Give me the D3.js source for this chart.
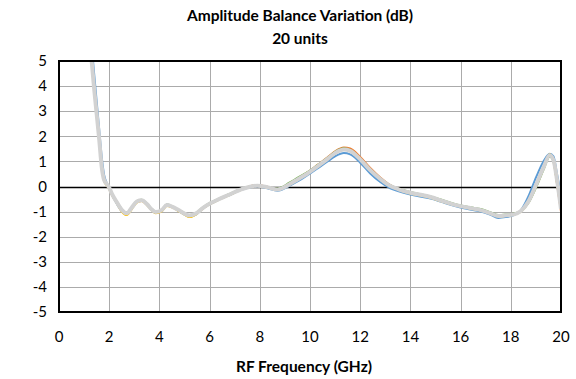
<!DOCTYPE html>
<html>
<head>
<meta charset="utf-8">
<script src="https://cdn.jsdelivr.net/npm/d3@7"></script>
<style>
  body { margin: 0; background: #fff; }
  svg text { font-family: Lato, "Open Sans", sans-serif; fill: #000; }
</style>
</head>
<body>
<svg id="chart" width="576" height="379"></svg>
<script>
// frequency points (GHz)
var freq = [1.2, 1.3, 1.4, 1.5, 1.6, 1.7, 1.8, 1.9, 2.0, 2.1, 2.3, 2.5, 2.7, 2.9, 3.1, 3.3, 3.5, 3.7, 3.85,
  4.1, 4.3, 4.5, 4.75, 5.0, 5.2, 5.45, 5.7, 5.9, 6.3, 6.75, 7.3, 7.9, 8.3, 8.7, 9.2, 9.5, 9.9, 10.3,
  10.7, 11.0, 11.35, 11.6, 12.0, 12.4, 12.8, 13.2, 13.5, 14.0, 14.5, 14.8, 15.2, 15.6, 16.0, 16.5,
  16.8, 17.2, 17.5, 17.8, 18.1, 18.4, 18.7, 19.0, 19.3, 19.55, 19.7, 19.85, 20.0];

// a few of the 20 units (dB)
var unitBlue = [6.4, 5.6, 4.5, 3.4, 2.3, 1.2, 0.45, 0.15, -0.05, -0.3, -0.68, -0.98, -1.1, -0.86, -0.6, -0.54, -0.7, -0.94, -1.04,
  -0.93, -0.72, -0.8, -0.96, -1.12, -1.2, -1.12, -0.9, -0.76, -0.56, -0.36, -0.12, 0.0, -0.07, -0.17, 0.04, 0.2, 0.45, 0.72,
  1.0, 1.2, 1.33, 1.28, 0.95, 0.52, 0.18, -0.07, -0.18, -0.32, -0.42, -0.48, -0.6, -0.73, -0.84, -0.94,
  -1.0, -1.13, -1.25, -1.22, -1.15, -0.95, -0.4, 0.35, 1.0, 1.3, 1.2, 0.45, -0.3];

var unitOrange = [5.8, 5.0, 3.9, 2.9, 1.9, 0.8, 0.25, 0.08, -0.08, -0.3, -0.62, -0.95, -1.1, -0.86, -0.62, -0.58, -0.72, -0.92, -1.05,
  -0.96, -0.76, -0.82, -0.95, -1.1, -1.19, -1.1, -0.9, -0.75, -0.55, -0.35, -0.1, 0.06, -0.01, -0.1, 0.12, 0.3, 0.56, 0.86,
  1.16, 1.4, 1.55, 1.52, 1.18, 0.74, 0.36, 0.06, -0.08, -0.25, -0.35, -0.42, -0.55, -0.68, -0.78, -0.88,
  -0.94, -1.07, -1.18, -1.15, -1.1, -0.98, -0.62, 0.0, 0.72, 1.22, 1.05, 0.05, -1.0];

var unitYellow = [5.7, 4.9, 3.8, 2.8, 1.8, 0.75, 0.2, 0.05, -0.1, -0.32, -0.66, -1.0, -1.14, -0.9, -0.64, -0.58, -0.74, -0.95, -1.07,
  -0.98, -0.78, -0.83, -0.97, -1.12, -1.22, -1.12, -0.9, -0.76, -0.56, -0.36, -0.11, 0.03, -0.03, -0.12, 0.1, 0.28, 0.52, 0.8,
  1.1, 1.34, 1.48, 1.45, 1.1, 0.66, 0.3, 0.01, -0.12, -0.28, -0.38, -0.45, -0.58, -0.7, -0.8, -0.9,
  -0.96, -1.08, -1.2, -1.17, -1.12, -1.0, -0.64, -0.02, 0.7, 1.28, 1.0, 0.1, -0.9];

var unitGreen = [5.8, 5.0, 3.9, 2.9, 1.9, 0.8, 0.25, 0.1, -0.05, -0.26, -0.6, -0.9, -1.04, -0.82, -0.58, -0.53, -0.68, -0.9, -1.0,
  -0.92, -0.72, -0.78, -0.92, -1.06, -1.14, -1.06, -0.86, -0.72, -0.52, -0.32, -0.08, 0.04, -0.02, -0.08, 0.16, 0.34, 0.57, 0.85,
  1.14, 1.38, 1.52, 1.46, 1.1, 0.68, 0.32, 0.04, -0.08, -0.22, -0.33, -0.4, -0.52, -0.65, -0.76, -0.85,
  -0.9, -1.03, -1.14, -1.12, -1.08, -0.98, -0.66, -0.05, 0.66, 1.2, 1.0, 0.1, -0.85];

var unitGray = [5.8, 5.0, 3.9, 2.9, 1.9, 0.8, 0.25, 0.1, -0.05, -0.27, -0.62, -0.93, -1.07, -0.84, -0.6, -0.55, -0.7, -0.92, -1.02,
  -0.93, -0.74, -0.8, -0.93, -1.08, -1.16, -1.08, -0.88, -0.74, -0.54, -0.34, -0.1, 0.03, -0.03, -0.12, 0.1, 0.28, 0.52, 0.8,
  1.1, 1.33, 1.47, 1.42, 1.08, 0.65, 0.3, 0.02, -0.1, -0.25, -0.35, -0.42, -0.55, -0.68, -0.78, -0.88,
  -0.94, -1.07, -1.18, -1.15, -1.12, -0.98, -0.6, 0.05, 0.75, 1.25, 1.05, 0.2, -0.9];

var units = [
  { values: unitBlue, color: "#5B9BD5" },
  { values: unitOrange, color: "#ED7D31" },
  { values: unitYellow, color: "#FFC000" },
  { values: unitGreen, color: "#70AD47" },
  { values: unitGray, color: "#D2D2D2" }
];

var xTicks = [0, 2, 4, 6, 8, 10, 12, 14, 16, 18, 20];
var yTicks = [5, 4, 3, 2, 1, 0, -1, -2, -3, -4, -5];

var margin = {top: 61, right: 15, bottom: 67, left: 59},
    width = 576 - margin.left - margin.right,
    height = 379 - margin.top - margin.bottom;

var svg = d3.select("#chart");

var x = d3.scaleLinear().domain([0, 20]).range([0, width]);
var y = d3.scaleLinear().domain([-5, 5]).range([height, 0]);

svg.append("text")
    .attr("x", 300).attr("y", 21)
    .attr("text-anchor", "middle")
    .style("font-size", "15.5px").style("font-weight", "bold")
    .text("Amplitude Balance Variation (dB)");
svg.append("text")
    .attr("x", 300).attr("y", 44)
    .attr("text-anchor", "middle")
    .style("font-size", "15.5px").style("font-weight", "bold")
    .text("20 units");

var g = svg.append("g").attr("transform", "translate(" + margin.left + "," + margin.top + ")");

// gridlines
g.append("g")
  .selectAll("line.h")
  .data(yTicks)
  .enter().append("line")
    .attr("x1", 0).attr("x2", width)
    .attr("y1", function(d) { return Math.round(y(d)) + 0.5; })
    .attr("y2", function(d) { return Math.round(y(d)) + 0.5; })
    .attr("stroke", "#ABABAB").attr("stroke-width", 1);

g.append("g")
  .selectAll("line.v")
  .data(xTicks)
  .enter().append("line")
    .attr("y1", 0).attr("y2", height)
    .attr("x1", function(d) { return Math.round(x(d)) + 0.5; })
    .attr("x2", function(d) { return Math.round(x(d)) + 0.5; })
    .attr("stroke", "#ABABAB").attr("stroke-width", 1);

// zero line
g.append("line")
    .attr("x1", 0).attr("x2", width)
    .attr("y1", Math.round(y(0)) + 0.5).attr("y2", Math.round(y(0)) + 0.5)
    .attr("stroke", "#000").attr("stroke-width", 1.3);

// clip the curves to the plot
g.append("clipPath").attr("id", "plotClip")
  .append("rect").attr("width", width).attr("height", height);

var line = d3.line()
    .curve(d3.curveMonotoneX)
    .x(function(d, i) { return x(freq[i]); })
    .y(function(d) { return y(d); });

var curves = g.append("g").attr("clip-path", "url(#plotClip)");
units.forEach(function(u, i) {
  curves.append("path")
      .datum(u.values)
      .attr("fill", "none")
      .attr("stroke", u.color)
      .attr("stroke-width", i == units.length - 1 ? 4 : 2)
      .attr("stroke-linejoin", "round")
      .attr("d", line);
});

// frame
g.append("rect")
    .attr("width", width).attr("height", height)
    .attr("fill", "none").attr("stroke", "#000").attr("stroke-width", 2);

// tick labels
g.append("g")
  .selectAll("text")
  .data(yTicks)
  .enter().append("text")
    .attr("x", -12)
    .attr("y", function(d) { return y(d); })
    .attr("dy", "0.35em")
    .attr("text-anchor", "end")
    .style("font-size", "15px")
    .text(function(d) { return d; });

g.append("g")
  .selectAll("text")
  .data(xTicks)
  .enter().append("text")
    .attr("x", function(d) { return x(d); })
    .attr("y", height + 25)
    .attr("dy", "0.35em")
    .attr("text-anchor", "middle")
    .style("font-size", "15px")
    .text(function(d) { return d; });

svg.append("text")
    .attr("x", 304).attr("y", 372)
    .attr("text-anchor", "middle")
    .style("font-size", "15.5px").style("font-weight", "bold")
    .text("RF Frequency (GHz)");
</script>
</body>
</html>
